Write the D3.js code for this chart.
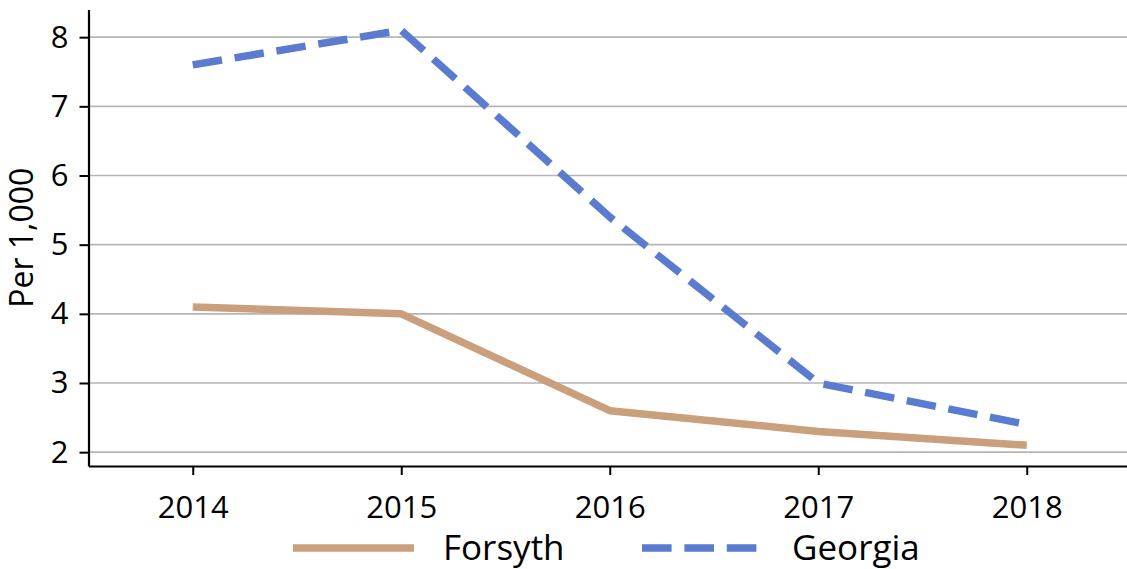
<!DOCTYPE html>
<html>
<head>
<meta charset="utf-8">
<script src="https://cdn.jsdelivr.net/npm/d3@7"></script>
<style>
  html, body { margin: 0; padding: 0; background: #fff; }
  svg { display: block; font-family: "Open Sans", "Noto Sans", sans-serif; }
</style>
</head>
<body>
<svg id="scene" width="1127" height="569"></svg>
<script>
const years = [2014, 2015, 2016, 2017, 2018];
const forsyth = [4.1, 4.0, 2.6, 2.3, 2.1];
const georgia = [7.6, 8.1, 5.4, 3.0, 2.4];
const yTicks = [2, 3, 4, 5, 6, 7, 8];

const series = [
	{ name: 'Forsyth', values: forsyth, color: '#c9a07b', dash: null },
	{ name: 'Georgia', values: georgia, color: '#5a7bd0', dash: '29.6,12.8' }
];

let svg = d3.select('#scene');

let scaleX = d3.scaleLinear().domain([2013.5, 2018.5]).range([88.5, 1131]);
let scaleY = d3.scaleLinear().domain([1.8, 8.4]).range([466, 9.5]);

// grid
svg.append('g').selectAll('line').data(yTicks).enter().append('line')
	.attr('x1', scaleX(2013.5)).attr('x2', 1127)
	.attr('y1', (d) => scaleY(d)).attr('y2', (d) => scaleY(d))
	.attr('stroke', '#b5b5b5').attr('stroke-width', 1.6);

// axes
let xAxis = svg.append('g').attr('transform', 'translate(0,' + scaleY(1.8) + ')')
	.call(d3.axisBottom(scaleX).tickValues(years).tickFormat(d3.format('d')).tickSize(9).tickPadding(21).tickSizeOuter(0));
let yAxis = svg.append('g').attr('transform', 'translate(' + scaleX(2013.5) + ',0)')
	.call(d3.axisLeft(scaleY).tickValues(yTicks).tickFormat(d3.format('d')).tickSize(9).tickPadding(11).tickSizeOuter(0));

[xAxis, yAxis].forEach(function (ax) {
	ax.select('.domain').attr('stroke', '#000').attr('stroke-width', 2.2);
	ax.selectAll('.tick line').attr('stroke', '#000').attr('stroke-width', 2);
	ax.selectAll('.tick text').attr('fill', '#000').style('font-size', '31px')
		.style('font-family', '"Open Sans", sans-serif');
});
xAxis.selectAll('.tick text').attr('dy', '0.71em');

svg.append('text')
	.attr('transform', 'translate(33,' + scaleY(5.1) + ') rotate(-90)')
	.attr('text-anchor', 'middle')
	.style('font-size', '32px')
	.text('Per 1,000');

// lines
let line = d3.line().x((d, i) => scaleX(years[i])).y((d) => scaleY(d));

svg.append('g').selectAll('path').data(series).enter().append('path')
	.attr('d', (d) => line(d.values))
	.attr('fill', 'none')
	.attr('stroke', (d) => d.color)
	.attr('stroke-width', 7.5)
	.attr('stroke-linejoin', 'round')
	.attr('stroke-dasharray', (d) => d.dash);

// legend
let legendX = [293, 642];
let legend = svg.append('g').selectAll('g').data(series).enter().append('g')
	.attr('transform', (d, i) => 'translate(' + legendX[i] + ',548)');
legend.append('line')
	.attr('x1', 0).attr('x2', 121).attr('y1', 0).attr('y2', 0)
	.attr('stroke', (d) => d.color)
	.attr('stroke-width', 7.5)
	.attr('stroke-dasharray', (d) => d.dash);
legend.append('text')
	.attr('x', 150).attr('y', 0).attr('dy', '0.34em')
	.style('font-size', '35px')
	.text((d) => d.name);
</script>
</body>
</html>
